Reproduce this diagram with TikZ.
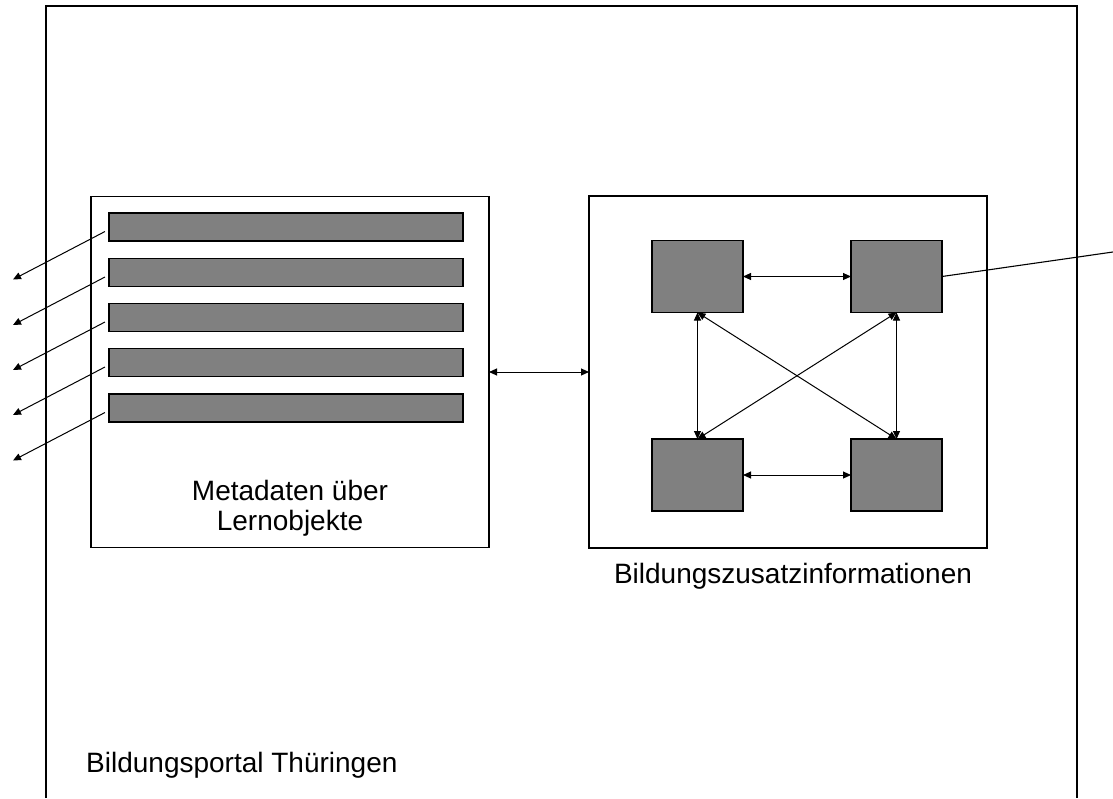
\documentclass[tikz,border=0pt]{standalone}
\usepackage{fontspec}
\setmainfont{Liberation Sans}
\usetikzlibrary{arrows.meta,calc}
\begin{document}
\begin{tikzpicture}[x=1pt,y=-1pt,
  frame/.style={draw=black,line width=1.3pt},
  bigbox/.style={draw=black,line width=1.2pt,fill=white,minimum width=398pt,minimum height=351pt,inner sep=0pt,outer sep=0pt},
  bar/.style={draw=black,line width=1.1pt,fill=gray50,minimum width=354pt,minimum height=28pt,inner sep=0pt,outer sep=0pt},
  sq/.style={draw=black,line width=1.1pt,fill=gray50,minimum width=91pt,minimum height=72pt,inner sep=0pt,outer sep=0pt},
  dbl/.style={line width=1pt,{Triangle[length=8pt,width=7pt]}-{Triangle[length=8pt,width=7pt]}},
  arr/.style={line width=1pt,-{Triangle[length=8pt,width=7pt]}},
  plain/.style={line width=1.1pt},
  lbl/.style={font=\fontsize{28pt}{31pt}\selectfont,inner sep=0pt,anchor=base}]
\definecolor{gray50}{HTML}{808080}
\useasboundingbox (0,0) rectangle (1113,798);
\fill[white] (0,0) rectangle (1113,798);
\draw[frame] (46,798) -- (46,6) -- (1077,6) -- (1077,798);
% boxes
\node[bigbox] (meta) at (290,372) {};
\node[bigbox,minimum height=352pt] (info) at (788,372) {};
% bars
\node[bar] (bar1) at (286,227) {};
\node[bar] (bar2) at (286,272.5) {};
\node[bar] (bar3) at (286,317.5) {};
\node[bar] (bar4) at (286,362.5) {};
\node[bar] (bar5) at (286,408) {};
% squares
\node[sq] (s1) at (697.5,276.5) {};
\node[sq] (s2) at (896.5,276.5) {};
\node[sq] (s3) at (697.5,475) {};
\node[sq] (s4) at (896.5,475) {};
% connectors
\draw[dbl] (meta.east) -- (info.west);
\draw[dbl] (s1.east) -- (s2.west);
\draw[dbl] (s3.east) -- (s4.west);
\draw[dbl] (s1.south) -- (s3.north);
\draw[dbl] (s2.south) -- (s4.north);
\draw[dbl] (s1.south) -- (s4.north);
\draw[dbl] (s2.south) -- (s3.north);
\coordinate (out) at (1113,252);
\draw[plain] (s2.east) -- (out);
\foreach \i in {1,...,5}{
  \draw[arr] ($(bar\i.west)+(-4,4.5)$) -- ++(-92,48);
}
% labels
\node[lbl] (t1) at (290,500) {Metadaten über};
\node[lbl] (t2) at (290,530) {Lernobjekte};
\node[lbl] (t3) at (793,583) {Bildungszusatzinformationen};
\node[lbl,anchor=base west] (t4) at (86,772) {Bildungsportal Thüringen};
\end{tikzpicture}
\end{document}
